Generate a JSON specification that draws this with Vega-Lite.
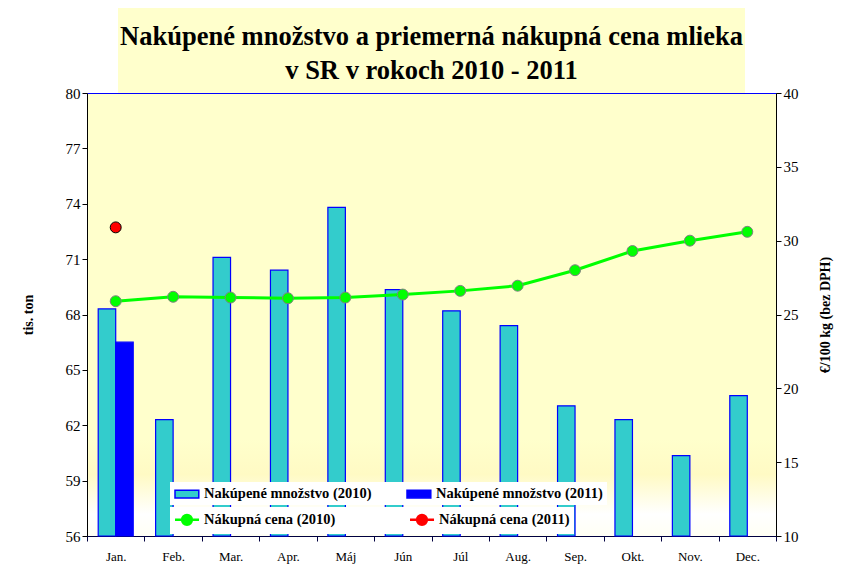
{
  "$schema": "https://vega.github.io/schema/vega-lite/v6.json",
  "padding": {"left": 20, "top": 8, "right": 20, "bottom": 5},
  "background": "white",
  "spacing": 0,
  "center": true,
  "bounds": "flush",
  "datasets": {
    "titleLines": [
      {"row": 1, "line": "Nakúpené množstvo a priemerná nákupná cena mlieka"},
      {"row": 2, "line": "v SR v rokoch 2010 - 2011"}
    ],
    "qty": [
      {"month": "Jan.", "series": "Nakúpené množstvo (2010)", "value": 68.3},
      {"month": "Feb.", "series": "Nakúpené množstvo (2010)", "value": 62.3},
      {"month": "Mar.", "series": "Nakúpené množstvo (2010)", "value": 71.1},
      {"month": "Apr.", "series": "Nakúpené množstvo (2010)", "value": 70.4},
      {"month": "Máj", "series": "Nakúpené množstvo (2010)", "value": 73.8},
      {"month": "Jún", "series": "Nakúpené množstvo (2010)", "value": 69.35},
      {"month": "Júl", "series": "Nakúpené množstvo (2010)", "value": 68.2},
      {"month": "Aug.", "series": "Nakúpené množstvo (2010)", "value": 67.4},
      {"month": "Sep.", "series": "Nakúpené množstvo (2010)", "value": 63.05},
      {"month": "Okt.", "series": "Nakúpené množstvo (2010)", "value": 62.3},
      {"month": "Nov.", "series": "Nakúpené množstvo (2010)", "value": 60.35},
      {"month": "Dec.", "series": "Nakúpené množstvo (2010)", "value": 63.6},
      {"month": "Jan.", "series": "Nakúpené množstvo (2011)", "value": 66.5}
    ],
    "price": [
      {"month": "Jan.", "series": "Nákupná cena (2010)", "price": 25.9},
      {"month": "Feb.", "series": "Nákupná cena (2010)", "price": 26.2},
      {"month": "Mar.", "series": "Nákupná cena (2010)", "price": 26.15},
      {"month": "Apr.", "series": "Nákupná cena (2010)", "price": 26.1},
      {"month": "Máj", "series": "Nákupná cena (2010)", "price": 26.15},
      {"month": "Jún", "series": "Nákupná cena (2010)", "price": 26.35},
      {"month": "Júl", "series": "Nákupná cena (2010)", "price": 26.6},
      {"month": "Aug.", "series": "Nákupná cena (2010)", "price": 26.95},
      {"month": "Sep.", "series": "Nákupná cena (2010)", "price": 28.0},
      {"month": "Okt.", "series": "Nákupná cena (2010)", "price": 29.3},
      {"month": "Nov.", "series": "Nákupná cena (2010)", "price": 30.0},
      {"month": "Dec.", "series": "Nákupná cena (2010)", "price": 30.6},
      {"month": "Jan.", "series": "Nákupná cena (2011)", "price": 30.9}
    ]
  },
  "vconcat": [
    {
      "width": 627,
      "height": 85,
      "view": {"fill": "#FFFFCC", "stroke": null},
      "data": {"name": "titleLines"},
      "mark": {"type": "text", "font": "Liberation Serif", "fontSize": 26.5, "fontWeight": "bold", "color": "black", "align": "center", "baseline": "middle"},
      "encoding": {
        "y": {"field": "row", "type": "ordinal", "axis": null, "scale": {"type": "point", "padding": 0.75, "align": 0.57}},
        "text": {"field": "line", "type": "nominal"}
      }
    },
    {
      "width": 689,
      "height": 443,
      "view": {
        "stroke": "#0000FF",
        "strokeWidth": 1,
        "fill": {
          "gradient": "linear",
          "x1": 0, "y1": 0, "x2": 0, "y2": 1,
          "stops": [
            {"offset": 0, "color": "#FFFFCC"},
            {"offset": 0.78, "color": "#FFFFCC"},
            {"offset": 0.86, "color": "#FFFAC4"},
            {"offset": 0.95, "color": "#FFFFFF"},
            {"offset": 1, "color": "#FFFFF4"}
          ]
        }
      },
      "encoding": {
        "x": {
          "field": "month",
          "type": "nominal",
          "sort": null,
          "scale": {"domain": ["Jan.", "Feb.", "Mar.", "Apr.", "Máj", "Jún", "Júl", "Aug.", "Sep.", "Okt.", "Nov.", "Dec."], "paddingInner": 0, "paddingOuter": 0},
          "axis": {"title": null, "labelAngle": 0, "labelFontSize": 13, "labelPadding": 9, "tickSize": 5, "tickBand": "extent", "domainColor": "#000040", "tickColor": "#000040"}
        }
      },
      "layer": [
        {
          "data": {"name": "qty"},
          "mark": {"type": "bar", "stroke": "#0000FF", "strokeWidth": 1.2},
          "encoding": {
            "xOffset": {"field": "series", "type": "nominal", "scale": {"domain": ["Nakúpené množstvo (2010)", "Nakúpené množstvo (2011)"], "paddingInner": 0, "paddingOuter": 0.64}},
            "y": {
              "field": "value",
              "type": "quantitative",
              "scale": {"domain": [56, 80], "nice": false, "zero": false},
              "axis": {"title": "tis. ton", "values": [56, 59, 62, 65, 68, 71, 74, 77, 80], "labelFontSize": 15, "tickSize": 5, "titleFontSize": 14, "titleFontWeight": "bold", "titlePadding": 30, "domainColor": "black", "tickColor": "black"}
            },
            "y2": {"datum": 56},
            "color": {
              "field": "series",
              "type": "nominal",
              "scale": {
                "domain": ["Nakúpené množstvo (2010)", "Nakúpené množstvo (2011)"],
                "range": ["#33CCCC", "#0000FF"]
              },
              "legend": {
                "title": null,
                "orient": "none",
                "legendX": 83,
                "legendY": 474,
                "columns": 2,
                "columnPadding": 32,
                "rowPadding": 0,
                "padding": 4,
                "fillColor": "white",
                "strokeColor": null,
                "labelFont": "Liberation Serif",
                "labelFontSize": 14.5,
                "labelFontWeight": "bold",
                "labelColor": "black",
                "labelOffset": 14,
                "labelLimit": 300,
                "symbolSize": 196,
                "symbolOpacity": 1,
                "symbolType": "M-1,-0.55H2.4V0.55H-1Z",
                "symbolStrokeColor": "#0000FF",
                "symbolStrokeWidth": 1.5
              }
            }
          }
        },
        {
          "data": {"name": "price"},
          "encoding": {
            "y": {
              "field": "price",
              "type": "quantitative",
              "scale": {"domain": [10, 40], "nice": false, "zero": false},
              "axis": {"orient": "right", "title": "€/100 kg (bez DPH)", "titleAngle": -90, "titleBaseline": "top", "values": [10, 15, 20, 25, 30, 35, 40], "labelFontSize": 15, "tickSize": 5, "titleFontSize": 14, "titleFontWeight": "bold", "titlePadding": 20, "domainColor": "black", "tickColor": "black"}
            }
          },
          "layer": [
            {
              "mark": {"type": "line", "strokeWidth": 3},
              "encoding": {
                "stroke": {
                  "field": "series",
                  "type": "nominal",
                  "scale": {"domain": ["Nákupná cena (2010)", "Nákupná cena (2011)"], "range": ["#00FF00", "#FF0000"]},
                  "legend": {
                    "title": null,
                    "orient": "none",
                    "legendX": 83,
                    "legendY": 499,
                    "columns": 2,
                    "columnPadding": 69,
                    "rowPadding": 0,
                    "padding": 4,
                    "fillColor": "white",
                    "strokeColor": null,
                    "labelFont": "Liberation Serif",
                    "labelFontSize": 14.5,
                    "labelFontWeight": "bold",
                    "labelColor": "black",
                    "labelOffset": 13,
                    "labelLimit": 300,
                    "symbolSize": 196,
                    "symbolOpacity": 1,
                    "symbolType": "M-1.07,0H-0.06A0.7,0.7 0 1 1 1.34,0A0.7,0.7 0 1 1 -0.06,0M1.34,0H2.36",
                    "symbolStrokeWidth": 2.5
                  }
                }
              }
            },
            {
              "mark": {"type": "point", "filled": true, "size": 120, "opacity": 1, "strokeWidth": 1},
              "encoding": {
                "fill": {
                  "field": "series",
                  "type": "nominal",
                  "scale": {"domain": ["Nákupná cena (2010)", "Nákupná cena (2011)"], "range": ["#00FF00", "#FF0000"]},
                  "legend": {
                    "title": null,
                    "orient": "none",
                    "legendX": 83,
                    "legendY": 499,
                    "columns": 2,
                    "columnPadding": 69,
                    "rowPadding": 0,
                    "padding": 4,
                    "fillColor": "white",
                    "strokeColor": null,
                    "labelFont": "Liberation Serif",
                    "labelFontSize": 14.5,
                    "labelFontWeight": "bold",
                    "labelColor": "black",
                    "labelOffset": 13,
                    "labelLimit": 300,
                    "symbolSize": 196,
                    "symbolOpacity": 1,
                    "symbolType": "M-1.07,0H-0.06A0.7,0.7 0 1 1 1.34,0A0.7,0.7 0 1 1 -0.06,0M1.34,0H2.36",
                    "symbolStrokeWidth": 2.5
                  }
                },
                "stroke": {"condition": {"test": "datum.series == 'Nákupná cena (2011)'", "value": "black"}, "value": "#808080"}
              }
            }
          ]
        }
      ],
      "resolve": {"scale": {"y": "independent"}}
    }
  ],
  "config": {
    "font": "Liberation Serif",
    "axis": {"labelFont": "Liberation Serif", "titleFont": "Liberation Serif", "labelColor": "black", "titleColor": "black", "grid": false}
  }
}
